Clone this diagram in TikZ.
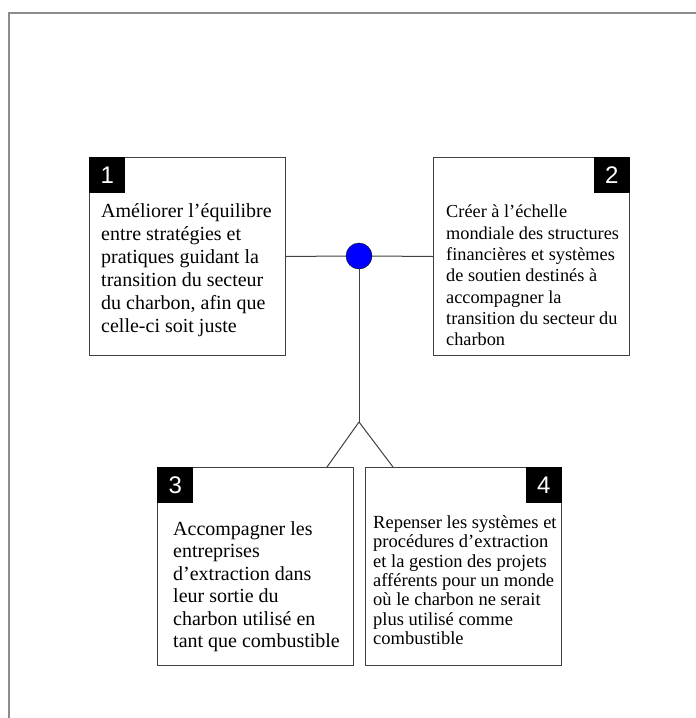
\documentclass[tikz,border=0pt]{standalone}
\usepackage{fontspec}
\setmainfont{Liberation Serif}
\newfontfamily\numfont{Liberation Sans}
\tikzset{
  box/.style={draw=black!75,line width=1pt,fill=white,minimum width=196pt,minimum height=198pt,anchor=north west,inner sep=0pt},
  numbox/.style={fill=black,text=white,font=\numfont\fontsize{24}{24}\selectfont,minimum width=36pt,minimum height=36pt,inner sep=0pt},
  txt/.style={anchor=north west,inner sep=0pt,align=left,font=\fontsize{20}{23}\selectfont},
  link/.style={draw=black!75,line width=1pt}
}
\begin{document}
\begin{tikzpicture}[x=1pt,y=-1pt]
\useasboundingbox (0,0) rectangle (696,718);
% cadre
\draw[black!45,line width=1.8pt] (9,718) -- (9,13) -- (696,13);
% boites du haut
\node[box] (b1) at (89,157) {};
\node[box] (b2) at (433,157) {};
\node[numbox,anchor=north west] (n1) at (b1.north west) {1};
\node[numbox,anchor=north east] (n2) at (b2.north east) {2};
\node[txt] (t1) at (101,203.5) {Améliorer l’équilibre\\entre stratégies et\\pratiques guidant la\\transition du secteur\\du charbon, afin que\\celle-ci soit juste};
\node[txt,font=\fontsize{18.3}{21.3}\selectfont] (t2) at (446,205) {Créer à l’échelle\\mondiale des structures\\financières et systèmes\\de soutien destinés à\\accompagner la\\transition du secteur du\\charbon};
% point central
\node[circle,draw=black,fill=blue,minimum size=26pt,inner sep=0pt] (dot) at (359,256) {};
\draw[link] (b1.east) -- (dot.west);
\draw[link] (dot.east) -- (b2.west);
\coordinate (apex) at (359,422);
\draw[link] (dot.south) -- (apex);
% boites du bas
\node[box] (b3) at (157,467) {};
\node[box] (b4) at (365,467) {};
\node[numbox,anchor=north west] (n3) at (b3.north west) {3};
\node[numbox,anchor=north east] (n4) at (b4.north east) {4};
\node[txt,font=\fontsize{20}{22.4}\selectfont] (t3) at (173,521.5) {Accompagner les\\entreprises\\d’extraction dans\\leur sortie du\\charbon utilisé en\\tant que combustible};
\node[txt,font=\fontsize{18.5}{19.3}\selectfont] (t4) at (373,515.5) {Repenser les systèmes et\\procédures d’extraction\\et la gestion des projets\\afférents pour un monde\\où le charbon ne serait\\plus utilisé comme\\combustible};
\draw[link] (apex) -- ([xshift=-27pt]b3.north east);
\draw[link] (apex) -- ([xshift=28pt]b4.north west);
\end{tikzpicture}
\end{document}
